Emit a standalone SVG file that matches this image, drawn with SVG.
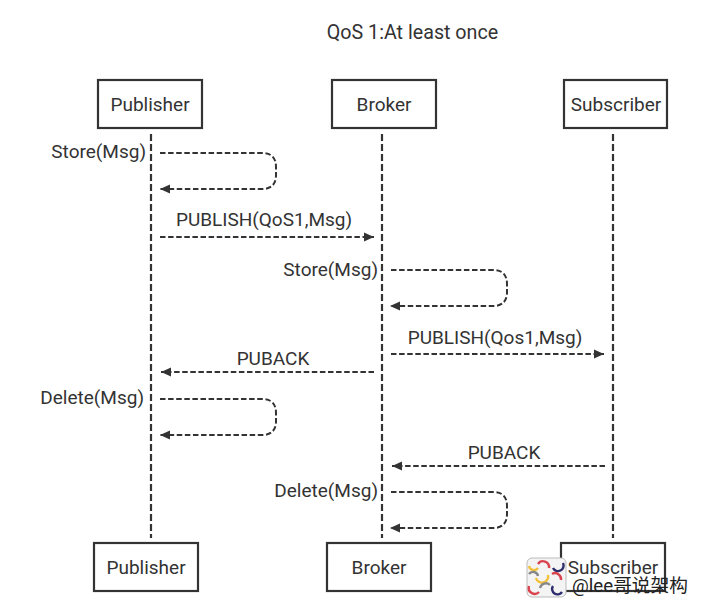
<svg xmlns="http://www.w3.org/2000/svg" width="704" height="610" viewBox="0 0 704 610">
  <style>
    text { font-family: Roboto, "Noto Sans CJK SC", sans-serif; font-size: 19px; fill: #333; }
    .box { fill: #fff; stroke: #333; stroke-width: 2.2; }
    .life { fill: none; stroke: #333; stroke-width: 2.2; stroke-dasharray: 7 3; }
    .msg { fill: none; stroke: #333; stroke-width: 2; stroke-dasharray: 5.5 2.6; }
    .mid { text-anchor: middle; }
    .end { text-anchor: end; }
  </style>
  <defs>
    <marker id="head" markerUnits="userSpaceOnUse" markerWidth="11" markerHeight="10" refX="10" refY="5" orient="auto">
      <path d="M0 0.5L10 5L0 9.5Z" fill="#333"/>
    </marker>
  </defs>
  <rect width="704" height="610" fill="#fff"/>
  <text id="title" x="412.500" y="39" class="mid" style="font-size:19.700px">QoS 1:At least once</text>

  <g id="connectors">
    <path class="life" d="M151 134V538"/>
    <path class="life" d="M382 134V538"/>
    <path class="life" d="M613 134V538"/>
    <path class="msg" marker-end="url(#head)" d="M160 153H262Q276 153 276 167V175Q276 189 262 189H160"/>
    <path class="msg" marker-end="url(#head)" d="M160 237H374"/>
    <path class="msg" marker-end="url(#head)" d="M391 270H493Q507 270 507 284V292Q507 306 493 306H390"/>
    <path class="msg" marker-end="url(#head)" d="M391 354H604"/>
    <path class="msg" marker-end="url(#head)" d="M374 372H161"/>
    <path class="msg" marker-end="url(#head)" d="M160 399H262Q276 399 276 413V421Q276 435 262 435H160"/>
    <path class="msg" marker-end="url(#head)" d="M605 466H392"/>
    <path class="msg" marker-end="url(#head)" d="M391 492H493Q507 492 507 506V514Q507 528 493 528H390"/>
  </g>

  <g id="pub-top"><rect class="box" x="98" y="80" width="104" height="48"/><text x="150" y="111" class="mid">Publisher</text></g>
  <g id="broker-top"><rect class="box" x="332" y="80" width="104" height="48"/><text x="384" y="111" class="mid">Broker</text></g>
  <g id="sub-top"><rect class="box" x="564" y="80" width="103" height="48"/><text x="616" y="111" class="mid">Subscriber</text></g>
  <g id="pub-bottom"><rect class="box" x="94" y="543" width="104" height="48"/><text x="146" y="574" class="mid">Publisher</text></g>
  <g id="broker-bottom"><rect class="box" x="327" y="543" width="104" height="48"/><text x="379" y="574" class="mid">Broker</text></g>
  <g id="sub-bottom"><rect class="box" x="561" y="543" width="104" height="48"/><text x="613" y="574" class="mid">Subscriber</text></g>

  <g id="labels">
    <text x="146" y="158" class="end">Store(Msg)</text>
    <text x="264" y="226" class="mid">PUBLISH(QoS1,Msg)</text>
    <text x="378" y="276" class="end">Store(Msg)</text>
    <text x="495" y="344" class="mid">PUBLISH(Qos1,Msg)</text>
    <text x="273" y="365" class="mid">PUBACK</text>
    <text x="144" y="404" class="end">Delete(Msg)</text>
    <text x="504" y="459" class="mid">PUBACK</text>
    <text x="378" y="497" class="end">Delete(Msg)</text>
  </g>

  <g id="badge">
    <rect x="527" y="558" width="39" height="39" rx="5" fill="#f4f4f4" stroke="#bbb"/>
    <g fill="none" stroke-width="2.4">
      <path d="M529 566a5 5 0 0 0 9 2" stroke="#f2c23c"/>
      <path d="M538 564a6 6 0 0 1 11 4" stroke="#d9434e"/>
      <path d="M553 568a5 5 0 0 0 10 -5" stroke="#2d2d6e"/>
      <path d="M529 574a5 5 0 0 1 9 2" stroke="#888"/>
      <path d="M536 578a6 6 0 0 0 12 -3" stroke="#f2c23c"/>
      <path d="M552 574a6 6 0 0 1 9 6" stroke="#d9434e"/>
      <path d="M529 586a6 6 0 0 0 10 6" stroke="#d9434e"/>
      <path d="M540 588a6 6 0 0 1 10 -3" stroke="#888"/>
      <path d="M553 586a5 5 0 0 0 9 6" stroke="#2d2d6e"/>
    </g>
    <text x="572" y="592" style="font-size:18.700px;fill:#222">@lee哥说架构</text>
  </g>
</svg>
